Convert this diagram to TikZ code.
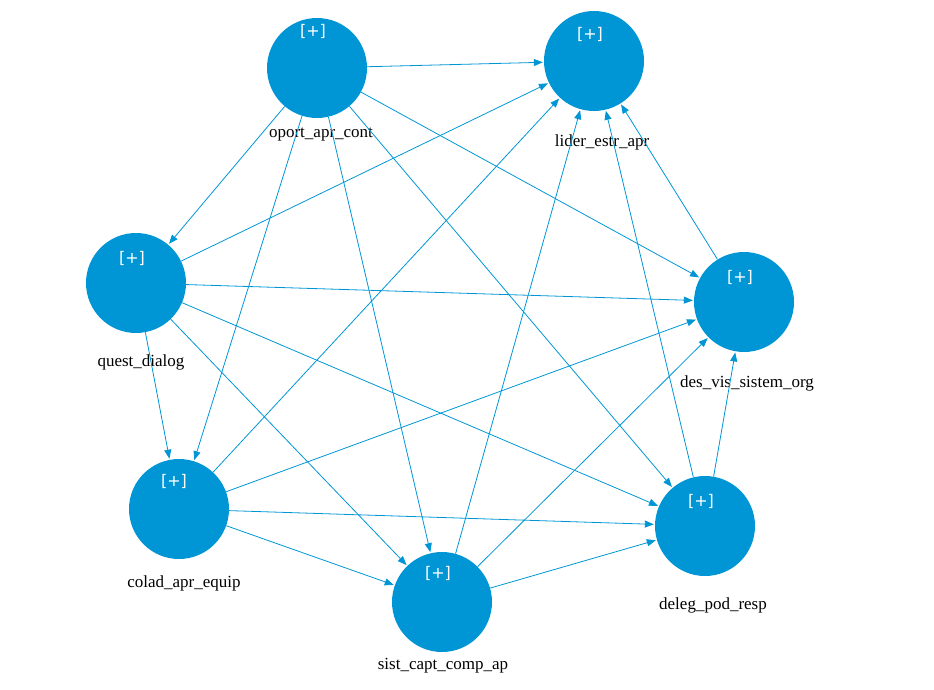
\documentclass[tikz,border=0pt]{standalone}
\usepackage{fontspec}
\setmainfont{Liberation Serif}
\newfontfamily\plf{DejaVu Sans}
\usetikzlibrary{arrows.meta}
\definecolor{nb}{RGB}{0,150,214}
\begin{document}
\begin{tikzpicture}[x=1pt,y=-1pt,
  nd/.style={circle,fill=nb,minimum size=100pt,inner sep=0pt},
  pl/.style={text=white,font=\plf\fontsize{16}{19}\selectfont},
  lb/.style={font=\fontsize{17}{20}\selectfont},
  ed/.style={draw=nb,line width=0.8pt,-{Triangle[length=9pt,width=7pt]},shorten >=1pt}]
\useasboundingbox (0,0) rectangle (934,690);
\node[nd] (o) at (317,68) {};
\node[nd] (l) at (594,61) {};
\node[nd] (q) at (136,283) {};
\node[nd] (d) at (744,302) {};
\node[nd] (c) at (179,509) {};
\node[nd] (s) at (442,602) {};
\node[nd] (g) at (705,526) {};
\foreach \n/\x/\y in {o/313/31,l/590/34,q/132/258,d/740/277,c/174/481,s/438/573,g/701/501}
  \node[pl] (p\n) at (\x,\y) {[+]};
\node[lb] (lo) at (321,135) {oport\_apr\_cont};
\node[lb] (ll) at (602,142) {lider\_estr\_apr};
\node[lb] (lq) at (141,362) {quest\_dialog};
\node[lb] (ld) at (747,383) {des\_vis\_sistem\_org};
\node[lb] (lc) at (184,583) {colad\_apr\_equip};
\node[lb] (ls) at (443,666) {sist\_capt\_comp\_ap};
\node[lb] (lg) at (713,605) {deleg\_pod\_resp};
\foreach \a/\b in {o/l,o/q,o/c,o/s,o/d,o/g,q/l,q/d,q/c,q/s,q/g,c/l,c/d,c/s,c/g,s/l,s/d,s/g,g/l,g/d,d/l}
  \draw[ed] (\a) -- (\b);
\end{tikzpicture}
\end{document}
